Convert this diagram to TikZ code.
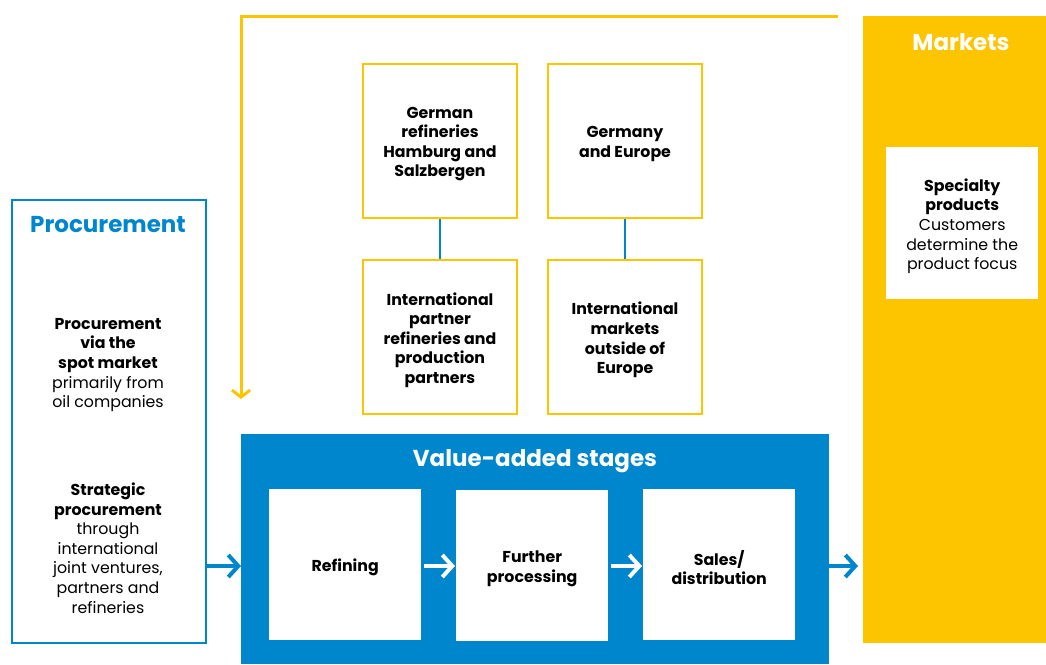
\documentclass[tikz,border=0pt]{standalone}
\usepackage{fontspec}
\setmainfont{Poppins}
\usetikzlibrary{arrows.meta}
\definecolor{cblue}{HTML}{0086CD}
\definecolor{cyel}{HTML}{FDC400}
\tikzset{
  ybox/.style={draw=cyel,line width=2pt,fill=white,minimum width=154pt,minimum height=154pt,anchor=north west,inner sep=0pt},
  wbox/.style={fill=white,minimum width=152pt,minimum height=151pt,anchor=north west,inner sep=0pt},
  txt/.style={align=center,font=\fontsize{15.8}{19.6}\selectfont,text=black,yshift=-3pt},
  title/.style={font=\fontsize{23}{27}\selectfont\bfseries,yshift=-2pt},
  barrow/.style={line width=4pt,-{Straight Barb[length=10pt,width=22pt,line width=4pt]}},
  conn/.style={draw=cblue,line width=2pt}
}
\begin{document}
\begin{tikzpicture}[x=1pt,y=-1pt]
\useasboundingbox (0,0) rectangle (1046,664);
% Markets
\node[fill=cyel,minimum width=183pt,minimum height=627pt,anchor=north west,inner sep=0pt] (mk) at (863,16) {};
\node[title,text=white] (mkt) at (961,40) {Markets};
\node[fill=white,minimum width=152pt,minimum height=152pt,anchor=north west,inner sep=0pt] (sp) at (886,147) {};
\node[txt] (spt) at (sp.center) {\textbf{Specialty}\\\textbf{products}\\Customers\\determine the\\product focus};
% Yellow feedback line
\coordinate (ya) at (838,16);
\coordinate (yb) at (241,16);
\coordinate (yc) at (241,399);
\draw[cyel,line width=3pt,-{Straight Barb[length=7pt,width=18pt,line width=3pt]}] (ya) -- (yb) -- (yc);
% Procurement
\node[draw=cblue,line width=2pt,minimum width=194pt,minimum height=443pt,anchor=north west,inner sep=0pt] (pr) at (11,199) {};
\node[title,text=cblue] (prt) at (108,223) {Procurement};
\node[txt] (p1) at (108,362) {\textbf{Procurement}\\\textbf{via the}\\\textbf{spot market}\\primarily from\\oil companies};
\node[txt] (p2) at (108,545) {\textbf{Strategic}\\\textbf{procurement}\\through\\international\\joint ventures,\\partners and\\refineries};
% Yellow boxes
\node[ybox] (b1) at (362,63) {};
\node[ybox] (b2) at (547,63) {};
\node[ybox] (b3) at (362,259) {};
\node[ybox] (b4) at (547,259) {};
\node[txt] at (b1.center) {\textbf{German}\\\textbf{refineries}\\\textbf{Hamburg and}\\\textbf{Salzbergen}};
\node[txt] at (b2.center) {\textbf{Germany}\\\textbf{and Europe}};
\node[txt] at (b3.center) {\textbf{International}\\\textbf{partner}\\\textbf{refineries and}\\\textbf{production}\\\textbf{partners}};
\node[txt] at (b4.center) {\textbf{International}\\\textbf{markets}\\\textbf{outside of}\\\textbf{Europe}};
\draw[conn] (b1.south) -- (b3.north);
\draw[conn] (b2.south) -- (b4.north);
% Value-added stages
\node[fill=cblue,minimum width=588pt,minimum height=230pt,anchor=north west,inner sep=0pt] (va) at (241,434) {};
\node[title,text=white] (vat) at (535,459) {Value-added stages};
\node[wbox] (r) at (269,489) {};
\node[wbox] (f) at (456,490) {};
\node[wbox] (s) at (643,489) {};
\node[txt] at (r.center) {\textbf{Refining}};
\node[txt] at (f.center) {\textbf{Further}\\\textbf{processing}};
\node[txt] at (s.center) {\textbf{Sales/}\\\textbf{distribution}};
% arrows
\draw[barrow,cblue] (pr.east |- 0,566) -- (va.west |- 0,566);
\draw[barrow,white] ([xshift=3pt]r.east |- 0,566) -- ([xshift=-1pt]f.west |- 0,566);
\draw[barrow,white] ([xshift=3pt]f.east |- 0,566) -- ([xshift=-1pt]s.west |- 0,566);
\draw[barrow,cblue] (va.east |- 0,566) -- ([xshift=-5pt]mk.west |- 0,566);
\end{tikzpicture}
\end{document}
